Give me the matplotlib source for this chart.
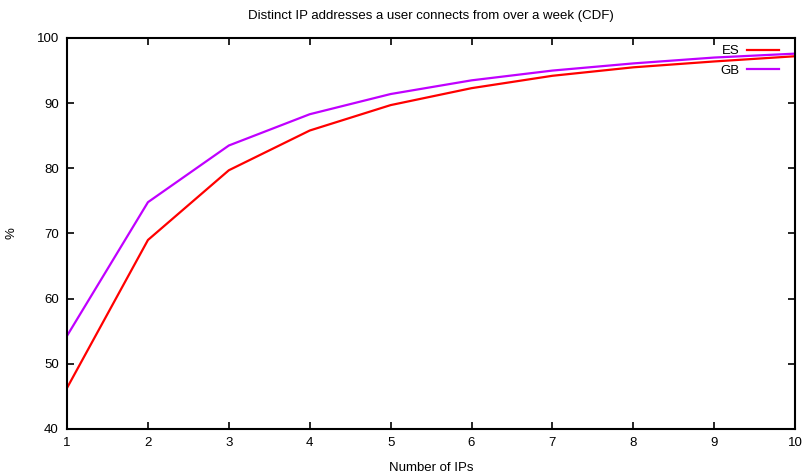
import matplotlib
matplotlib.use('Agg')
import matplotlib.pyplot as plt

plt.rcParams['font.family'] = ['Liberation Sans', 'DejaVu Sans']

n_ips = [1, 2, 3, 4, 5, 6, 7, 8, 9, 10]
es = [46.3, 69.0, 79.7, 85.8, 89.7, 92.3, 94.2, 95.5, 96.4, 97.2]
gb = [54.3, 74.8, 83.5, 88.3, 91.4, 93.5, 95.0, 96.1, 97.0, 97.6]

fig = plt.figure(figsize=(8.08, 4.75), dpi=100)
ax = fig.add_axes([0.083, 0.097, 0.901, 0.823])

ax.plot(n_ips, es, color='#ff0000', lw=1.6, label='ES')
ax.plot(n_ips, gb, color='#c000ff', lw=1.6, label='GB')

ax.set_xlim(1, 10)
ax.set_ylim(40, 100)
ax.set_xticks(n_ips)
ax.set_yticks(range(40, 101, 10))
ax.tick_params(direction='in', top=True, right=True, length=5, width=1.2,
               labelsize=9.5, pad=6)
for s in ax.spines.values():
    s.set_linewidth(1.5)

ax.set_xlabel('Number of IPs', fontsize=9.5, labelpad=9)
ax.set_ylabel('%', fontsize=9.5, labelpad=14)
ax.set_title('Distinct IP addresses a user connects from over a week (CDF)',
             fontsize=9.5, pad=14)

ax.legend(loc='upper right', frameon=False, markerfirst=False, fontsize=9.5,
          handlelength=2.4, handletextpad=0.6, labelspacing=0.55,
          borderaxespad=0.0, bbox_to_anchor=(0.985, 0.995))

fig.savefig('out.png', dpi=100)
